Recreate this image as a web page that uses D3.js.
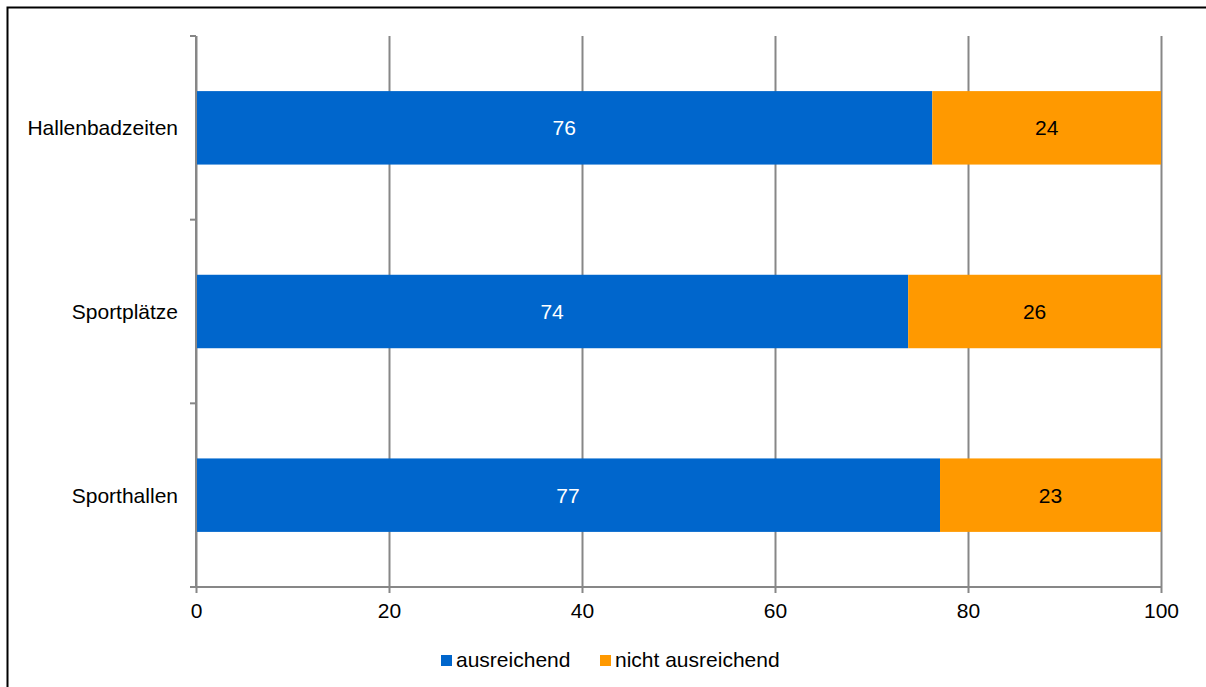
<!DOCTYPE html>
<html>
<head>
<meta charset="utf-8">
<script src="https://cdn.jsdelivr.net/npm/d3@7.9.0/dist/d3.min.js"></script>
<style>
  body { margin: 0; background: #fff; }
  svg { display: block; font-family: 'Liberation Sans', Arial, sans-serif; }
</style>
</head>
<body>
<svg id="chart" width="1206" height="687"></svg>
<script>
// Data
const categories = ['Hallenbadzeiten', 'Sportplätze', 'Sporthallen'];
const ausreichend = [76.3, 73.8, 77.1];
const nichtAusreichend = [23.7, 26.2, 22.9];
const seriesNames = ['ausreichend', 'nicht ausreichend'];
const xTicks = [0, 20, 40, 60, 80, 100];

const colors = ['#0066CC', '#FF9900'];
const labelColors = ['#ffffff', '#000000'];
const axisColor = '#878787';
const fontSize = 21;

const width = 1206, height = 687;
const usable = { left: 196, right: 1161, top: 36, bottom: 587 };

const svg = d3.select('#chart');

// outer frame
svg.append('rect')
    .attr('x', 7.5).attr('y', 7.5)
    .attr('width', width + 10).attr('height', height + 10)
    .attr('fill', 'none').attr('stroke', '#000').attr('stroke-width', 2);

const xScale = d3.scaleLinear()
    .domain([0, 100])
    .range([usable.left, usable.right]);

const yScale = d3.scaleBand()
    .domain(categories)
    .range([usable.top, usable.bottom])
    .paddingInner(0.6)
    .paddingOuter(0.3);

// gridlines
const grid = svg.append('g')
    .attr('transform', `translate(0, ${usable.bottom})`)
    .call(d3.axisBottom(xScale).tickValues(xTicks).tickFormat('').tickSize(-(usable.bottom - usable.top)));
grid.select('.domain').remove();
grid.selectAll('line').attr('stroke', axisColor).attr('stroke-width', 2);

// stacked data
const rows = categories.map((c, i) => ({ cat: c, ausreichend: ausreichend[i], nicht: nichtAusreichend[i] }));
const stack = d3.stack().keys(['ausreichend', 'nicht'])(rows);

const layers = svg.append('g').selectAll('g')
    .data(stack)
    .join('g')
    .attr('fill', (d, i) => colors[i]);

layers.selectAll('rect')
    .data(d => d)
    .join('rect')
    .attr('x', d => xScale(d[0]))
    .attr('y', d => yScale(d.data.cat))
    .attr('width', d => xScale(d[1]) - xScale(d[0]))
    .attr('height', yScale.bandwidth());

// value labels
stack.forEach((layer, i) => {
    svg.append('g').selectAll('text')
        .data(layer)
        .join('text')
        .attr('x', d => (xScale(d[0]) + xScale(d[1])) / 2)
        .attr('y', d => yScale(d.data.cat) + yScale.bandwidth() / 2)
        .attr('dy', '0.35em')
        .attr('text-anchor', 'middle')
        .attr('font-size', fontSize)
        .attr('fill', labelColors[i])
        .text(d => Math.round(d[1] - d[0]));
});

// x axis
const xAxis = svg.append('g')
    .attr('transform', `translate(0, ${usable.bottom})`)
    .call(d3.axisBottom(xScale).tickValues(xTicks).tickSize(6).tickPadding(10));
xAxis.select('.domain').attr('stroke', axisColor).attr('stroke-width', 2)
    .attr('d', `M${usable.left - 6},0H${usable.right}`);
xAxis.selectAll('line').attr('stroke', axisColor).attr('stroke-width', 2);
xAxis.selectAll('text').attr('font-size', fontSize).attr('fill', '#000')
    .attr('font-family', "'Liberation Sans', Arial, sans-serif");

// y axis with boundary ticks between categories
const boundaries = d3.range(categories.length + 1);
const yAxis = svg.append('g');
yAxis.append('line')
    .attr('x1', usable.left).attr('x2', usable.left)
    .attr('y1', usable.top).attr('y2', usable.bottom)
    .attr('stroke', axisColor).attr('stroke-width', 2);
yAxis.selectAll('line.tick')
    .data(boundaries)
    .join('line')
    .attr('class', 'tick')
    .attr('x1', usable.left - 6).attr('x2', usable.left)
    .attr('y1', i => usable.top + i * (usable.bottom - usable.top) / categories.length)
    .attr('y2', i => usable.top + i * (usable.bottom - usable.top) / categories.length)
    .attr('stroke', axisColor).attr('stroke-width', 2);
yAxis.selectAll('text')
    .data(categories)
    .join('text')
    .attr('x', usable.left - 18)
    .attr('y', d => yScale(d) + yScale.bandwidth() / 2)
    .attr('dy', '0.35em')
    .attr('text-anchor', 'end')
    .attr('font-size', fontSize)
    .attr('fill', '#000')
    .text(d => d);

// legend
const legendX = [441, 600];
const legend = svg.append('g').selectAll('g')
    .data(seriesNames)
    .join('g')
    .attr('transform', (d, i) => `translate(${legendX[i]}, 660)`);
legend.append('rect')
    .attr('x', 0).attr('y', -5)
    .attr('width', 11).attr('height', 11)
    .attr('fill', (d, i) => colors[i]);
legend.append('text')
    .attr('x', 15).attr('y', 0)
    .attr('dy', '0.35em')
    .attr('font-size', fontSize)
    .attr('fill', '#000')
    .text(d => d);
</script>
</body>
</html>
